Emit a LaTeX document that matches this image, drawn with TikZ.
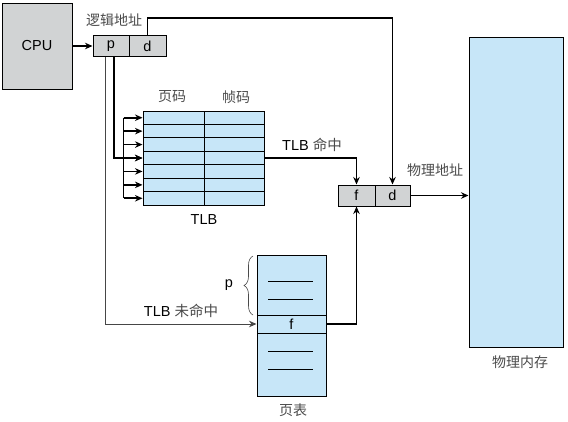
\documentclass[tikz,border=0pt]{standalone}
\usepackage{fontspec}
\setmainfont{Liberation Sans}
\newfontfamily\cjk{Noto Sans CJK SC}
\usetikzlibrary{arrows.meta,decorations.pathreplacing}
\definecolor{boxgray}{HTML}{D1D3D4}
\definecolor{boxblue}{HTML}{C7E6F8}
\definecolor{labgray}{HTML}{4A4A4A}
\begin{document}
\begin{tikzpicture}[x=1pt,y=-1pt,font=\fontsize{14.5}{16}\selectfont,
  cell/.style={draw,line width=1pt,inner sep=0pt,minimum height=21pt},
  graycell/.style={cell,fill=boxgray},
  bluecell/.style={cell,fill=boxblue,minimum width=61pt,minimum height=13.43pt},
  wire/.style={line width=1.6pt,-{Stealth[length=7.5pt,width=6.5pt]}},
  cn/.style={font=\cjk\fontsize{14}{16}\selectfont,text=labgray}]
\useasboundingbox(0,0)rectangle(568,421);
\pgfmathsetmacro{\trow}{94/7}
\pgfmathsetmacro{\kbus}{19}
% CPU and logical address
\node[graycell,minimum width=70pt,minimum height=86pt](cpu)at(37,46){CPU};
\node[graycell,minimum width=36pt](pbox)at(111,46){p};
\node[graycell,minimum width=37pt](dbox)at(147.5,46){d};
\node[cn](lgaddr)at(114,20){逻辑地址};
% TLB
\foreach \i in {1,...,7}{
\node[bluecell](pg\i)at(173.5,{111+\trow*(\i-0.5)}){};
\node[bluecell,minimum width=60pt](fr\i)at(234,{111+\trow*(\i-0.5)}){};
}
\node[cn](pglab)at(172,97){页码};
\node[cn](frlab)at(236,97){帧码};
\node(tlblab)at(204,220){TLB};
% page table
\node[bluecell,minimum width=69pt,minimum height=141pt](pt)at(291.5,325.5){};
\node[bluecell,minimum width=69pt,minimum height=18pt](ptf)at(291.5,324){f};
\foreach \y in {281,299,351,369}{\draw[line width=1pt](268,\y)--(313,\y);}
\node[cn](ptlab)at(293,410){页表};
\draw[decorate,decoration={brace,amplitude=9pt},line width=0.6pt,labgray](253,315)--(253,256);
\node(plab)at(229,285){p};
% physical address and memory
\node[graycell,minimum width=37pt](fdf)at(356.5,195.5){f};
\node[graycell,minimum width=35pt](fdd)at(392.5,195.5){d};
\node[cn](phaddr)at(435,170){物理地址};
\node[bluecell,minimum width=94pt,minimum height=310pt](mem)at(516,192){};
\node[cn](memlab)at(520,362){物理内存};
\node(hitlab)at(312,145){TLB {\cjk\color{labgray}命中}};
\node(misslab)at(181,311){TLB {\cjk\color{labgray}未命中}};
% connectors
\draw[wire](cpu.east)--(pbox.west);
\draw[wire](dbox.north)--++(0,-17)-|(fdd.north);
\draw[wire]([xshift=3pt]pbox.south)|-(pg4.west);
\draw[line width=1.6pt]([xshift=-\kbus pt]pg1.west)--([xshift=-\kbus pt]pg7.west);
\foreach \i in {1,...,7}{\draw[wire]([xshift=-\kbus pt]pg\i.west)--(pg\i.west);}
\draw[wire](fr4.east)-|(fdf.north);
\draw[line width=1pt,gray!55!black,-{Stealth[length=7.5pt,width=6.5pt]}]([xshift=-6pt]pbox.south)|-(ptf.west);
\draw[wire](ptf.east)-|(fdf.south);
\draw[wire](fdd.east)--(fdd.east-|mem.west);
\end{tikzpicture}
\end{document}
